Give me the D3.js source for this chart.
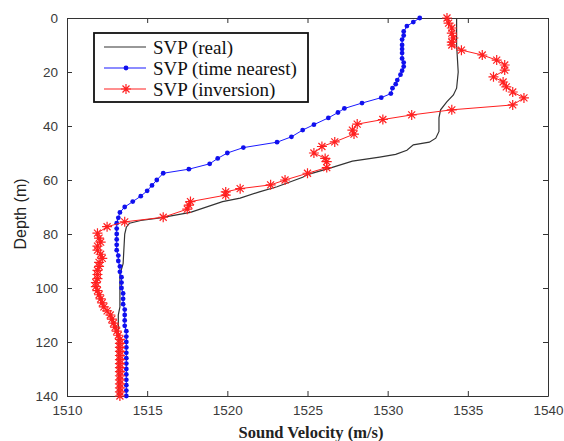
<!DOCTYPE html>
<html>
<head>
<meta charset="utf-8">
<script src="https://cdn.jsdelivr.net/npm/d3@7"></script>
<style>
  body { margin: 0; background: #fff; }
  .tick text { font-family: "Liberation Sans", Arial, sans-serif; font-size: 13.5px; fill: #3a3a3a; }
</style>
</head>
<body>
<div id="chart"></div>
<script>
const svgWidth = 564
const svgHeight = 441

let margin = { top: 18, right: 16, bottom: 45, left: 67 }
let width = svgWidth - margin.left - margin.right
let height = svgHeight - margin.top - margin.bottom

// [velocity m/s, depth m]
const svpReal = [
  [1534.3, 0], [1534.3, 10], [1534.4, 20], [1534.3, 26], [1534.1, 28.5], [1533.7, 31],
  [1533.3, 34], [1533.2, 37], [1533.2, 42], [1533.0, 44.5], [1532.6, 46], [1531.6, 47],
  [1531.2, 49], [1530.5, 50.5], [1529.5, 51.5], [1527.8, 53], [1526.4, 55.6], [1525.0, 58],
  [1524.7, 59], [1523.1, 62.5], [1522.0, 64.4], [1520.8, 66.7], [1519.7, 68], [1517.7, 72],
  [1515.8, 74], [1514.6, 75], [1513.9, 76], [1513.7, 77.5], [1513.6, 80], [1513.5, 91],
  [1513.3, 95], [1513.3, 107], [1513.2, 110], [1513.2, 140]
]

const svpNearest = [
  [1532.0, 0], [1531.6, 1.5], [1531.2, 3], [1531.0, 5], [1531.0, 6.5], [1530.9, 8],
  [1530.9, 10], [1530.9, 11.5], [1530.9, 13], [1530.9, 15], [1531.0, 16.5], [1531.0, 18],
  [1530.9, 19.5], [1530.8, 21], [1530.6, 23], [1530.5, 24.5], [1530.3, 26], [1530.2, 28],
  [1529.6, 29.5], [1528.4, 31.5], [1527.3, 33.5], [1526.9, 35], [1526.3, 37], [1525.4, 39.5],
  [1524.7, 41.5], [1524.0, 44], [1523.1, 46], [1521.0, 48], [1520.0, 50], [1519.4, 52],
  [1518.9, 54], [1517.6, 56], [1516.0, 57.5], [1515.6, 60], [1515.3, 62], [1515.0, 64],
  [1514.6, 66], [1514.1, 68], [1513.6, 70], [1513.3, 72], [1513.2, 74], [1513.1, 76],
  [1513.1, 78], [1513.1, 80], [1513.1, 82], [1513.1, 84], [1513.1, 86], [1513.2, 88],
  [1513.2, 90], [1513.3, 92], [1513.3, 94], [1513.4, 96], [1513.4, 98], [1513.4, 100],
  [1513.5, 102], [1513.5, 104], [1513.5, 106], [1513.6, 108], [1513.6, 110], [1513.6, 112],
  [1513.6, 114], [1513.7, 116], [1513.7, 118], [1513.7, 120], [1513.7, 122], [1513.7, 124],
  [1513.7, 126], [1513.7, 128], [1513.7, 130], [1513.7, 132], [1513.7, 134], [1513.7, 136],
  [1513.7, 138], [1513.7, 140]
]

const svpInversion = [
  [1533.7, 0], [1533.8, 1.9], [1534.0, 3.7], [1534.0, 5.6], [1534.1, 7.4], [1534.0, 8.9],
  [1534.0, 10], [1534.6, 11.9], [1535.9, 13.7], [1536.8, 15.6], [1537.3, 17.4], [1537.3, 19.3],
  [1536.6, 21.8], [1537.2, 23.7], [1537.4, 25.5], [1537.8, 27.4], [1538.5, 29.6], [1537.8, 32.2],
  [1534.0, 34], [1531.5, 35.9], [1529.7, 37.6], [1528.1, 39.3], [1527.8, 41.5], [1527.9, 43],
  [1526.7, 45.9], [1525.9, 47.6], [1525.4, 50], [1526.1, 52], [1526.2, 53.2], [1526.2, 55.4],
  [1525.0, 57.5], [1523.6, 60], [1522.7, 61.8], [1520.8, 63.2], [1519.9, 64.4], [1519.9, 65.6],
  [1517.7, 68], [1517.6, 69.3], [1517.5, 70.8], [1516.0, 73.8], [1513.6, 75.5], [1512.5, 77.3],
  [1511.9, 79.7], [1512.0, 81.5], [1512.1, 83], [1511.9, 84.5], [1511.9, 86], [1512.1, 87.5],
  [1512.2, 89], [1512.0, 90.5], [1512.0, 92], [1511.9, 93.5], [1511.9, 95], [1511.9, 96.5],
  [1511.8, 98], [1511.8, 99.5], [1511.9, 101], [1512.0, 102.5], [1512.1, 104], [1512.2, 105.5],
  [1512.3, 107], [1512.5, 108.5], [1512.7, 110], [1512.8, 111.5], [1512.9, 113], [1513.0, 114.5],
  [1513.1, 116], [1513.2, 117.5], [1513.3, 119], [1513.3, 120.5], [1513.3, 122], [1513.3, 123.5],
  [1513.3, 125], [1513.3, 126.5], [1513.3, 128], [1513.3, 129.5], [1513.3, 131], [1513.3, 132.5],
  [1513.3, 134], [1513.3, 135.5], [1513.3, 137], [1513.3, 138.5], [1513.3, 140]
]

const xTicks = [1510, 1515, 1520, 1525, 1530, 1535, 1540]
const yTicks = [0, 20, 40, 60, 80, 100, 120, 140]
const legendLabels = ["SVP (real)", "SVP (time nearest)", "SVP (inversion)"]

let svg = d3.select("#chart")
  .append("svg")
  .attr("width", svgWidth)
  .attr("height", svgHeight)

let chartGroup = svg.append("g")
  .attr("transform", `translate(${margin.left}, ${margin.top})`)

let x = d3.scaleLinear().domain([1510, 1540]).range([0, width])
let y = d3.scaleLinear().domain([0, 140]).range([0, height])

// axes with inward ticks, MATLAB style box
let axisColor = "#333"
function styleAxis(g) {
  g.select(".domain").attr("stroke", axisColor)
  g.selectAll(".tick line").attr("stroke", axisColor)
}

chartGroup.append("g")
  .attr("transform", `translate(0, ${height})`)
  .call(d3.axisBottom(x).tickValues(xTicks).tickSizeInner(-5).tickSizeOuter(0).tickPadding(9).tickFormat(d3.format("d")))
  .call(styleAxis)

chartGroup.append("g")
  .call(d3.axisTop(x).tickValues(xTicks).tickSizeInner(-5).tickSizeOuter(0).tickFormat(""))
  .call(styleAxis)

chartGroup.append("g")
  .call(d3.axisLeft(y).tickValues(yTicks).tickSizeInner(-5).tickSizeOuter(0).tickPadding(9))
  .call(styleAxis)

chartGroup.append("g")
  .attr("transform", `translate(${width}, 0)`)
  .call(d3.axisRight(y).tickValues(yTicks).tickSizeInner(-5).tickSizeOuter(0).tickFormat(""))
  .call(styleAxis)

let line = d3.line()
  .x(d => x(d[0]))
  .y(d => y(d[1]))

chartGroup.append("path")
  .datum(svpReal)
  .attr("fill", "none")
  .attr("stroke", "#333")
  .attr("stroke-width", 1.2)
  .attr("d", line)

chartGroup.append("path")
  .datum(svpNearest)
  .attr("fill", "none")
  .attr("stroke", "#1a1aff")
  .attr("stroke-width", 1)
  .attr("d", line)

chartGroup.selectAll(".dot")
  .data(svpNearest)
  .enter()
  .append("circle")
  .attr("class", "dot")
  .attr("cx", d => x(d[0]))
  .attr("cy", d => y(d[1]))
  .attr("r", 2.4)
  .attr("fill", "#1010ee")

chartGroup.append("path")
  .datum(svpInversion)
  .attr("fill", "none")
  .attr("stroke", "#ff2020")
  .attr("stroke-width", 1)
  .attr("d", line)

// asterisk marker: plus + cross
const starPath = "M-5,0H5M0,-5V5M-3.5,-3.5L3.5,3.5M-3.5,3.5L3.5,-3.5"

chartGroup.selectAll(".star")
  .data(svpInversion)
  .enter()
  .append("path")
  .attr("class", "star")
  .attr("transform", d => `translate(${x(d[0])}, ${y(d[1])})`)
  .attr("d", starPath)
  .attr("stroke", "#ff2020")
  .attr("stroke-width", 1.2)
  .attr("fill", "none")

// legend
let legend = svg.append("g")
  .attr("transform", "translate(94, 33)")

legend.append("rect")
  .attr("width", 214)
  .attr("height", 69)
  .attr("fill", "#fff")
  .attr("stroke", "#111")
  .attr("stroke-width", 1.8)

let rowY = [14, 35, 56]
let rowColors = ["#333", "#1a1aff", "#ff2020"]

legendLabels.forEach((label, i) => {
  legend.append("line")
    .attr("x1", 10).attr("x2", 52)
    .attr("y1", rowY[i]).attr("y2", rowY[i])
    .attr("stroke", rowColors[i])
    .attr("stroke-width", 1.2)

  if (i === 1) {
    legend.append("circle")
      .attr("cx", 32).attr("cy", rowY[i]).attr("r", 2.4)
      .attr("fill", "#1010ee")
  }
  if (i === 2) {
    legend.append("path")
      .attr("transform", `translate(32, ${rowY[i]})`)
      .attr("d", starPath)
      .attr("stroke", "#ff2020")
      .attr("stroke-width", 1.2)
  }

  legend.append("text")
    .attr("x", 59)
    .attr("y", rowY[i])
    .attr("dy", "0.35em")
    .style("font-family", "'Liberation Serif', 'Times New Roman', serif")
    .style("font-size", "19px")
    .style("fill", "#111")
    .text(label)
})

// axis titles
svg.append("text")
  .attr("x", 311)
  .attr("y", 438)
  .attr("text-anchor", "middle")
  .style("font-family", "'Liberation Serif', 'Times New Roman', serif")
  .style("font-size", "16.5px")
  .style("font-weight", "bold")
  .style("fill", "#222")
  .text("Sound Velocity (m/s)")

svg.append("text")
  .attr("transform", `translate(26, 214)rotate(-90)`)
  .attr("text-anchor", "middle")
  .style("font-family", "'Liberation Sans', Arial, sans-serif")
  .style("font-size", "16px")
  .style("fill", "#222")
  .text("Depth (m)")
</script>
</body>
</html>
